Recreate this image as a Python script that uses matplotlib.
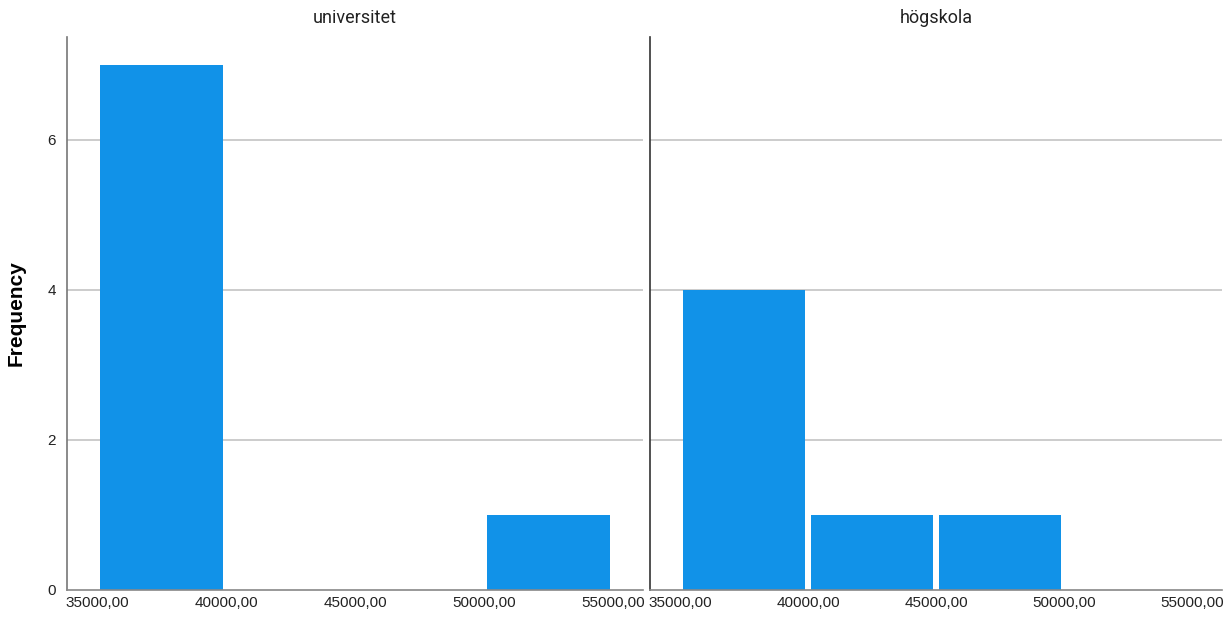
import matplotlib
matplotlib.use("Agg")
import matplotlib.pyplot as plt

plt.rcParams['font.family'] = ['Liberation Sans', 'DejaVu Sans']

panels = ["universitet", "högskola"]
bin_edges = [35000, 40000, 45000, 50000, 55000]
counts_universitet = [7, 0, 0, 1]
counts_hogskola = [4, 1, 1, 0]
counts = [counts_universitet, counts_hogskola]
xticks = [35000, 40000, 45000, 50000, 55000]
xticklabels = ["35000,00", "40000,00", "45000,00", "50000,00", "55000,00"]
yticks = [0, 2, 4, 6]

fig = plt.figure(figsize=(12.3, 6.17), dpi=100)
positions = [[0.0545, 0.0438, 0.4683, 0.896], [0.5285, 0.0438, 0.465, 0.896]]
bar_color = "#1192e8"
gap = 115  # visual gap in data units on each side of a bar
left_spine_colors = ['#777777', '#333333']

for i, (name, cnt) in enumerate(zip(panels, counts)):
    ax = fig.add_axes(positions[i])
    lefts = [bin_edges[j] + gap for j in range(len(cnt))]
    widths = [bin_edges[j + 1] - bin_edges[j] - 2 * gap for j in range(len(cnt))]
    ax.bar(lefts, cnt, width=widths, align='edge', color=bar_color,
           edgecolor='none', linewidth=0, zorder=3)
    ax.set_xlim(33830, 56170)
    ax.set_ylim(0, 7.37)
    ax.set_yticks(yticks)
    for y in yticks[1:]:
        ax.axhline(y, color='#c8c8c8', linewidth=1.3, zorder=1)
    ax.set_xticks(xticks)
    ax.set_xticklabels(xticklabels, fontsize=11)
    ax.tick_params(axis='both', length=0, pad=4, labelsize=11, colors='#222222')
    ax.tick_params(axis='y', pad=8)
    for s in ['top', 'right']:
        ax.spines[s].set_visible(False)
    ax.spines['left'].set_color(left_spine_colors[i])
    ax.spines['bottom'].set_color('#888888')
    ax.spines['left'].set_linewidth(1.2)
    ax.spines['bottom'].set_linewidth(1.2)
    ax.spines['left'].set_zorder(4)
    ax.spines['bottom'].set_zorder(4)
    if i == 0:
        ax.set_yticklabels([str(t) for t in yticks])
        ax.set_ylabel("Frequency", fontsize=15, fontweight='bold', labelpad=16)
    else:
        ax.set_yticklabels([])
    ax.set_title(name, fontsize=13, pad=10, color='#222222',
                 family=['Roboto', 'DejaVu Sans'])

fig.savefig("out.png", dpi=100, facecolor='white')
